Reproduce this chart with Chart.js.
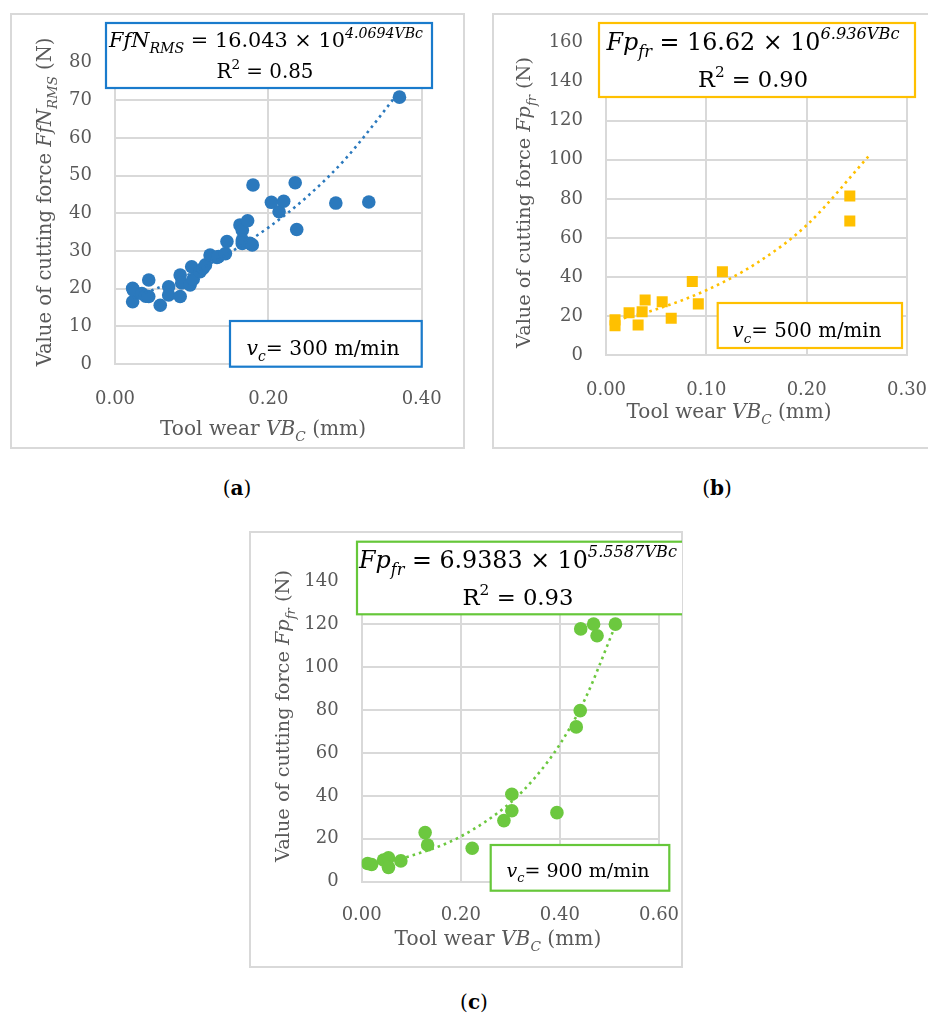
<!DOCTYPE html>
<html><head><meta charset="utf-8">
<script src="https://cdn.jsdelivr.net/npm/chart.js@4.4.0/dist/chart.umd.min.js"></script>
<style>
html,body{margin:0;padding:0;background:#fff;}
body{width:928px;height:1018px;position:relative;overflow:hidden;}
.frame{position:absolute;border:2px solid #d9d9d9;box-sizing:border-box;background:#fff;}
canvas{position:absolute;}
.cap{position:absolute;font-family:'DejaVu Serif',serif;font-size:20px;color:#000;transform:translate(-50%,-50%);white-space:nowrap;}
</style></head><body>
<div class="frame" style="left:10px;top:13px;width:455px;height:436px"></div>
<div class="frame" style="left:492px;top:13px;width:440px;height:436px"></div>
<div class="frame" style="left:249px;top:531px;width:434px;height:437px"></div>
<canvas id="ca"></canvas>
<canvas id="cb"></canvas>
<canvas id="cc"></canvas>
<div class="cap" style="left:237px;top:488px">(<b>a</b>)</div>
<div class="cap" style="left:717px;top:488px">(<b>b</b>)</div>
<div class="cap" style="left:474px;top:1002px">(<b>c</b>)</div>
<script>
// ---------- data ----------
// (a) vc = 300 m/min
const aWear  = [0.023,0.023,0.024,0.035,0.040,0.044,0.044,0.059,0.070,0.070,0.085,0.085,0.087,0.098,0.100,0.102,0.111,0.115,0.118,0.124,0.133,0.135,0.144,0.146,0.163,0.166,0.166,0.166,0.173,0.176,0.179,0.180,0.204,0.214,0.220,0.235,0.237,0.288,0.331,0.371];
const aForce = [20.1,16.5,19.6,18.7,18.0,22.3,17.9,15.6,20.5,18.3,17.9,23.6,21.5,21.0,25.8,22.5,24.5,25.4,26.3,28.9,28.3,28.5,29.3,32.5,36.9,35.5,32.9,32.0,38.0,32.0,31.6,47.5,42.9,40.4,43.2,48.1,35.7,42.7,43.0,70.8];
const aTrendWear  = [0.023,0.05,0.10,0.15,0.20,0.25,0.30,0.371];
const aTrendForce = [17.6,19.7,24.1,29.6,36.2,44.3,54.3,72.3];
// (b) vc = 500 m/min
const bWear  = [0.009,0.009,0.023,0.032,0.036,0.039,0.056,0.065,0.086,0.092,0.116,0.243,0.243];
const bForce = [18.0,15.0,21.7,15.4,22.2,28.2,27.3,18.8,37.6,26.2,42.7,81.5,68.7];
const bTrendWear  = [0.005,0.05,0.10,0.15,0.20,0.262];
const bTrendForce = [17.2,23.4,33.2,47.0,66.5,102.0];
// (c) vc = 900 m/min
const cWear  = [0.012,0.020,0.044,0.054,0.054,0.079,0.128,0.133,0.223,0.287,0.303,0.303,0.394,0.433,0.441,0.442,0.468,0.475,0.512];
const cForce = [8.5,8.0,10.1,11.2,6.7,9.7,22.9,17.1,15.6,28.5,33.1,40.8,32.2,72.2,79.8,117.9,120.1,114.7,120.1];
const cTrendWear  = [0.012,0.10,0.20,0.30,0.35,0.40,0.45,0.512];
const cTrendForce = [7.4,12.1,21.1,36.8,48.6,64.1,84.8,119.5];

const FONT = "'DejaVu Serif'";

// ---------- rich text helpers ----------
function segFont(s, size){
  const sz = (s.sub||s.sup) ? size*0.68 : size;
  return (s.i?'italic ':'') + sz.toFixed(2) + 'px ' + FONT;
}
function richW(ctx, segs, size){
  let w=0; for(const s of segs){ ctx.font=segFont(s,size); w+=ctx.measureText(s.t).width; } return w;
}
function drawRich(ctx, segs, cx, base, size, color){
  const w = richW(ctx, segs, size);
  let x = cx - w/2;
  ctx.fillStyle = color; ctx.textBaseline='alphabetic'; ctx.textAlign='left';
  for(const s of segs){
    ctx.font = segFont(s,size);
    const dy = s.sub ? size*0.28 : (s.sup ? -size*0.45 : 0);
    ctx.fillText(s.t, x, base+dy);
    x += ctx.measureText(s.t).width;
  }
}
function fitSize(ctx, segs, target){ const b=20; return b*target/richW(ctx,segs,b); }
function drawItem(ctx, it){
  const size = fitSize(ctx, it.segs, it.w);
  if(it.rot){
    ctx.save(); ctx.translate(it.cx, it.cy); ctx.rotate(-Math.PI/2);
    drawRich(ctx, it.segs, 0, size*0.33, size, it.color);
    ctx.restore();
  } else drawRich(ctx, it.segs, it.cx, it.cy, size, it.color);
}
const N = t=>({t}), I = t=>({t,i:true}), SUB = t=>({t,i:true,sub:true}), SUP = t=>({t,sup:true}), ISUP = t=>({t,i:true,sup:true});
const xTitleSegs = [N('Tool wear '), I('VB'), SUB('C'), N(' (mm)')];

function mk(sp){
  const cv = document.getElementById(sp.id);
  const c = sp.canvas, a = sp.area;
  cv.width=c.w; cv.height=c.h; cv.style.left=c.x+'px'; cv.style.top=c.y+'px';
  const padTop = a.t - c.y, padRight = c.x + c.w - a.r, yW = a.l - c.x, xH = c.y + c.h - a.b;
  new Chart(cv, {
    type:'scatter',
    data:{datasets:[
      {data: sp.tx.map((x,i)=>({x, y:sp.ty[i]})), showLine:true, borderColor:sp.color, borderWidth:2.6,
       borderDash:[2.6,4], borderCapStyle:'butt', pointRadius:0, cubicInterpolationMode:'monotone', fill:false, order:0},
      {data: sp.x.map((x,i)=>({x, y:sp.y[i]})), backgroundColor:sp.color, borderColor:sp.color, borderWidth:0,
       pointStyle:sp.ps, pointRadius:sp.r, order:1}
    ]},
    options:{
      responsive:false, animation:false, events:[],
      layout:{padding:{top:padTop, right:padRight, left:0, bottom:0}},
      plugins:{legend:{display:false}, tooltip:{enabled:false}},
      scales:{
        x:{type:'linear', min:0, max:sp.xMax,
           ticks:{stepSize:sp.xStep, padding:0, color:'#595959', font:{family:FONT,size:18}, maxRotation:0, callback:v=>Number(v).toFixed(2)},
           grid:{color:'#d9d9d9', lineWidth:2, drawTicks:true, tickLength:sp.xPad, tickColor:'rgba(0,0,0,0)'}, border:{color:'#d9d9d9', width:2},
           afterFit:s=>{s.height=xH;}},
        y:{type:'linear', min:0, max:sp.yMax,
           ticks:{stepSize:sp.yStep, padding:0, color:'#595959', font:{family:FONT,size:18}},
           grid:{color:'#d9d9d9', lineWidth:2, drawTicks:true, tickLength:23, tickColor:'rgba(0,0,0,0)'}, border:{color:'#d9d9d9', width:2},
           afterFit:s=>{s.width=yW;}}
      }
    },
    plugins:[{id:'ann', afterDraw(chart){
      const ctx = chart.ctx; ctx.save(); ctx.translate(-c.x, -c.y);
      for(const b of sp.boxes){
        ctx.fillStyle='#fff'; ctx.fillRect(b.l,b.t,b.r-b.l,b.b-b.t);
        ctx.strokeStyle=sp.boxColor; ctx.lineWidth=2.2; ctx.strokeRect(b.l,b.t,b.r-b.l,b.b-b.t);
      }
      for(const it of sp.texts) drawItem(ctx, it);
      ctx.restore();
    }}]
  });
}

mk({id:'ca', canvas:{x:11,y:14,w:453,h:434}, area:{l:115,r:421.7,t:62.5,b:364},
  x:aWear, y:aForce, tx:aTrendWear, ty:aTrendForce, color:'#2b79bd', ps:'circle', r:6.8,
  xMax:0.4, xStep:0.2, yMax:80, yStep:10, xPad:25,
  boxColor:'#1a7bcc',
  boxes:[{l:106,t:23,r:432,b:88},{l:230,t:321,r:421.7,b:366.7}],
  texts:[
    {segs:xTitleSegs, cx:263, cy:435, w:206, color:'#595959'},
    {segs:[N('Value of cutting force '), I('FfN'), SUB('RMS'), N(' (N)')], cx:45, cy:202, w:329, color:'#595959', rot:true},
    {segs:[I('FfN'), SUB('RMS'), N(' = 16.043 × 10'), ISUP('4.0694VBc')], cx:266, cy:47, w:314, color:'#000'},
    {segs:[N('R'), SUP('2'), N(' = 0.85')], cx:265, cy:78, w:97, color:'#000'},
    {segs:[I('v'), SUB('c'), N('= 300 m/min')], cx:323, cy:355, w:153, color:'#000'}
  ]});

mk({id:'cb', canvas:{x:493,y:14,w:435,h:434}, area:{l:606,r:907,t:42.7,b:355},
  x:bWear, y:bForce, tx:bTrendWear, ty:bTrendForce, color:'#ffc000', ps:'rect', r:7.8,
  xMax:0.3, xStep:0.1, yMax:160, yStep:20, xPad:25,
  boxColor:'#ffc000',
  boxes:[{l:599,t:23,r:915,b:97},{l:717.7,t:303,r:902,b:348}],
  texts:[
    {segs:xTitleSegs, cx:729, cy:418, w:205, color:'#595959'},
    {segs:[N('Value of cutting force '), I('Fp'), SUB('fr'), N(' (N)')], cx:524, cy:202.5, w:291, color:'#595959', rot:true},
    {segs:[I('Fp'), SUB('fr'), N(' = 16.62 × 10'), ISUP('6.936VBc')], cx:753, cy:50, w:293, color:'#000'},
    {segs:[N('R'), SUP('2'), N(' = 0.90')], cx:753, cy:87, w:110, color:'#000'},
    {segs:[I('v'), SUB('c'), N('= 500 m/min')], cx:807, cy:337, w:149, color:'#000'}
  ]});

mk({id:'cc', canvas:{x:250,y:532,w:432,h:435}, area:{l:361.7,r:659,t:581.5,b:881.7},
  x:cWear, y:cForce, tx:cTrendWear, ty:cTrendForce, color:'#6cc83f', ps:'circle', r:6.8,
  xMax:0.6, xStep:0.2, yMax:140, yStep:20, xPad:23,
  boxColor:'#66c73a',
  boxes:[{l:357,t:541.7,r:687,b:614.3},{l:490.7,t:845,r:669.3,b:890.7}],
  texts:[
    {segs:xTitleSegs, cx:498, cy:945, w:207, color:'#595959'},
    {segs:[N('Value of cutting force '), I('Fp'), SUB('fr'), N(' (N)')], cx:283, cy:716, w:292, color:'#595959', rot:true},
    {segs:[I('Fp'), SUB('fr'), N(' = 6.9383 × 10'), ISUP('5.5587VBc')], cx:518, cy:568, w:318, color:'#000'},
    {segs:[N('R'), SUP('2'), N(' = 0.93')], cx:518, cy:605, w:111, color:'#000'},
    {segs:[I('v'), SUB('c'), N('= 900 m/min')], cx:578, cy:877, w:143, color:'#000'}
  ]});
</script>
</body></html>
